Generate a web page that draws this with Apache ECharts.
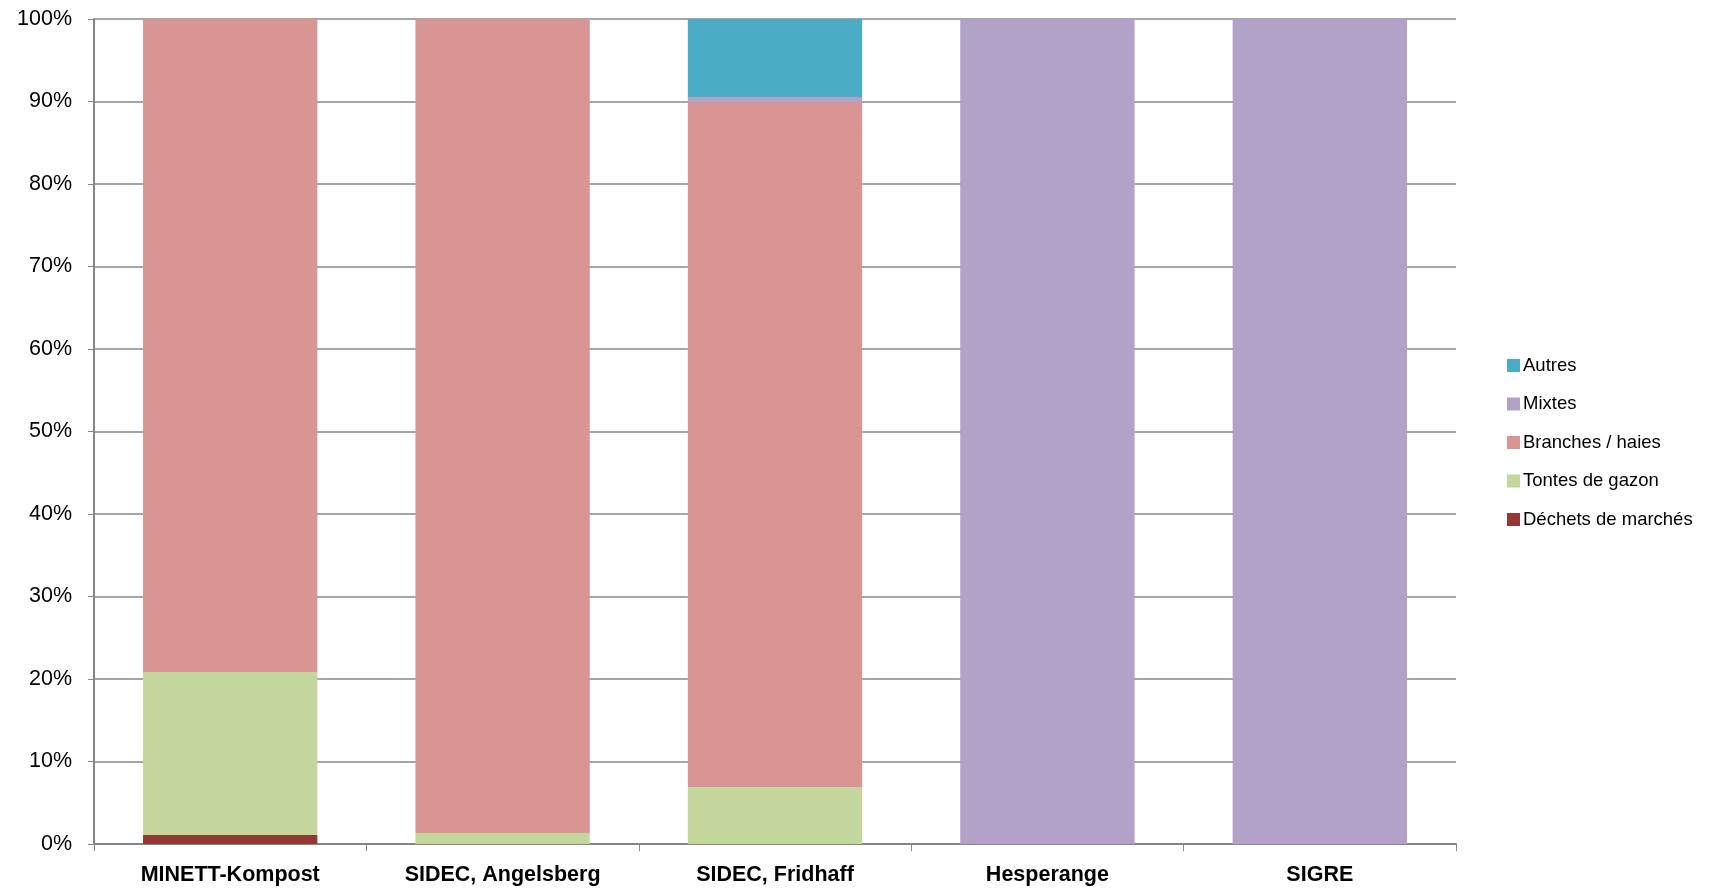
<!DOCTYPE html>
<html><head><meta charset="utf-8">
<script src="https://cdn.jsdelivr.net/npm/echarts@6/dist/echarts.min.js"></script>
<style>html,body{margin:0;padding:0;background:#fff}#c{width:1729px;height:888px}</style>
</head><body><div id="c"></div>
<script>
const categories = ["MINETT-Kompost", "SIDEC, Angelsberg", "SIDEC, Fridhaff", "Hesperange", "SIGRE"];
const dechets = [1.1, 0, 0, 0, 0];
const tontes = [19.75, 1.33, 6.87, 0, 0];
const branches = [79.15, 98.67, 83.03, 0, 0];
const mixtes = [0, 0, 0.65, 100, 100];
const autres = [0, 0, 9.45, 0, 0];
const yTicks = [0, 10, 20, 30, 40, 50, 60, 70, 80, 90, 100];

const font = "'Liberation Sans', Arial, sans-serif";
const chart = echarts.init(document.getElementById('c'), null, {renderer: 'canvas'});
function s(name, data, color) {
  return {name, type: 'bar', stack: 'a', data, barCategoryGap: '36%',
    itemStyle: {color}, emphasis: {disabled: true}};
}
chart.setOption({
  animation: false,
  grid: {left: 94, right: 273, top: 19, bottom: 44, containLabel: false},
  legend: {
    orient: 'vertical', left: 1502, top: 351, itemGap: 19.5,
    itemWidth: 13, itemHeight: 13, icon: 'rect',
    data: ["Autres", "Mixtes", "Branches / haies", "Tontes de gazon", "Déchets de marchés"],
    textStyle: {fontFamily: font, fontSize: 18.5, color: '#000', padding: [0, 0, 0, -2]}
  },
  xAxis: {
    type: 'category', data: categories,
    axisLine: {lineStyle: {color: '#868686', width: 2}},
    axisTick: {show: true, alignWithLabel: false, length: 7, lineStyle: {color: '#868686', width: 1}},
    axisLabel: {fontFamily: font, fontSize: 21.5, fontWeight: 'bold', color: '#000', margin: 20}
  },
  yAxis: {
    type: 'value', min: 0, max: 100, interval: 10,
    axisLine: {show: true, lineStyle: {color: '#868686', width: 2}},
    axisTick: {show: true, length: 6, lineStyle: {color: '#868686'}},
    splitLine: {lineStyle: {color: '#A6A6A6', width: 2}},
    axisLabel: {fontFamily: font, fontSize: 21.5, color: '#000', margin: 22,
      formatter: v => yTicks.includes(v) ? v + '%' : ''}
  },
  series: [
    s("Déchets de marchés", dechets, '#953735'),
    s("Tontes de gazon", tontes, '#C3D69B'),
    s("Branches / haies", branches, '#D99594'),
    s("Mixtes", mixtes, '#B3A2C7'),
    s("Autres", autres, '#4BACC6')
  ]
});
</script></body></html>
